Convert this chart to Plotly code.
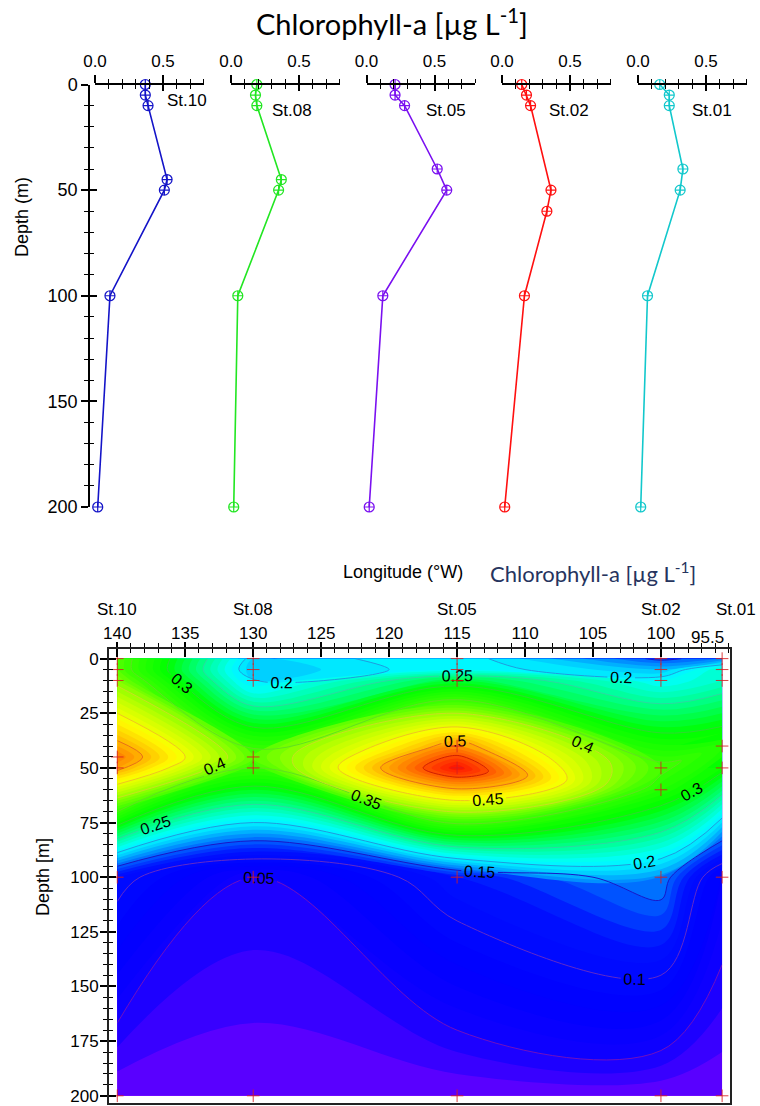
import plotly.graph_objects as go

# ---------------------------------------------------------------- data
stations = ["St.10", "St.08", "St.05", "St.02", "St.01"]
longitude_w = [140, 130, 115, 100, 95.5]

depth_st10 = [0, 5, 10, 45, 50, 100, 200]
chl_st10 = [0.37, 0.37, 0.39, 0.53, 0.51, 0.11, 0.02]

depth_st08 = [0, 5, 10, 45, 50, 100, 200]
chl_st08 = [0.19, 0.18, 0.19, 0.37, 0.35, 0.05, 0.02]

depth_st05 = [0, 5, 10, 40, 50, 100, 200]
chl_st05 = [0.21, 0.21, 0.28, 0.52, 0.59, 0.12, 0.02]

depth_st02 = [0, 5, 10, 50, 60, 100, 200]
chl_st02 = [0.145, 0.18, 0.21, 0.36, 0.33, 0.165, 0.02]

depth_st01 = [0, 5, 10, 40, 50, 100, 200]
chl_st01 = [0.16, 0.23, 0.23, 0.33, 0.31, 0.07, 0.02]

chl_tickvals = [0, 0.5]
chl_ticktext = ["0.0", "0.5"]
depth_ticks_profile = [0, 50, 100, 150, 200]
lon_ticks = [140, 135, 130, 125, 120, 115, 110, 105, 100]
depth_ticks_section = [0, 25, 50, 75, 100, 125, 150, 175, 200]

profile_depths = [depth_st10, depth_st08, depth_st05, depth_st02, depth_st01]
profile_chl = [chl_st10, chl_st08, chl_st05, chl_st02, chl_st01]
profile_colors = ["#1414c8", "#22e622", "#7a10f0", "#ff1010", "#12c8cc"]

# ---------------------------------------------------------------- page geometry (pixels)
W, H = 760, 1106
FONT = "Arial, 'Liberation Sans', sans-serif"
TITLE_FONT = "Lato, 'Open Sans', sans-serif"


def fx(px):
    return px / W


def fy(py):
    return 1 - py / H


prof_top, prof_bottom = 84.5, 507          # depth 0 and 200 m
prof_axis_x = 89
prof_origin_px = [95, 231, 366.5, 502, 638]
prof_unit_px = 136                          # pixels per ug/L

sec_left, sec_right, sec_top, sec_bottom = 109, 730, 649, 1103
sec_xrange = [140.61, 94.92]
sec_yrange = [203.3, -4.4]

# ---------------------------------------------------------------- figure
fig = go.Figure()

for i, (name, d, c, col) in enumerate(zip(stations, profile_depths, profile_chl, profile_colors)):
    fig.add_trace(go.Scatter(
        x=c, y=d, xaxis="x" if i == 0 else f"x{i + 1}", yaxis="y",
        mode="lines+markers", name=name, showlegend=False, cliponaxis=False,
        line=dict(color=col, width=1.6),
        marker=dict(symbol="circle-cross-open", size=10, color=col,
                    line=dict(width=1.2, color=col)),
    ))

# section: the casts form a curvilinear (longitude, depth) grid
grid_a = list(range(len(stations)))
grid_b = list(range(len(depth_st10)))
grid_x = [[longitude_w[i] for i in grid_a] for j in grid_b]
grid_y = [[profile_depths[i][j] for i in grid_a] for j in grid_b]
grid_z = [[profile_chl[i][j] for i in grid_a] for j in grid_b]

hidden_carpet_axis = dict(showgrid=False, showline=False, showticklabels="none",
                          startline=False, endline=False, minorgridcount=0,
                          tickmode="array", tickvals=[], smoothing=0)
fig.add_trace(go.Carpet(
    carpet="section", a=grid_a, b=grid_b, x=grid_x, y=grid_y,
    xaxis="x6", yaxis="y2", color="rgba(0,0,0,0)",
    aaxis=hidden_carpet_axis, baxis=hidden_carpet_axis,
))

# colour stops in ug/L, rescaled to the 0-0.6 colour range below
Z_MAX = 0.6
fill_stops = [
    (0.000, "#8000ff"), (0.020, "#6a00ff"), (0.035, "#3800ff"), (0.050, "#1000ff"),
    (0.080, "#0000ff"), (0.120, "#0010ff"), (0.150, "#0060ff"), (0.190, "#00e0ff"),
    (0.210, "#00ffff"), (0.250, "#00ff90"), (0.300, "#00ff00"), (0.360, "#40ff00"),
    (0.420, "#c0ff00"), (0.460, "#ffff00"), (0.520, "#ff9000"), (0.560, "#ff4000"),
    (0.600, "#ff0000"),
]
line_stops = [
    (0.000, "#7010c0"), (0.050, "#8030c8"), (0.080, "#2020c8"), (0.120, "#1818c8"),
    (0.150, "#1848d8"), (0.190, "#20b8e0"), (0.210, "#20d8d8"), (0.250, "#30d890"),
    (0.300, "#30d830"), (0.360, "#60e020"), (0.420, "#c8e020"), (0.460, "#f0e020"),
    (0.520, "#f09020"), (0.560, "#e05010"), (0.600, "#d02000"),
]
fill_scale = [[v / Z_MAX, c] for v, c in fill_stops]
line_scale = [[v / Z_MAX, c] for v, c in line_stops]

fig.add_trace(go.Contourcarpet(
    carpet="section", z=grid_z, xaxis="x6", yaxis="y2",
    zauto=False, zmin=0, zmax=Z_MAX, colorscale=fill_scale, showscale=False,
    autocontour=False,
    contours=dict(start=0, end=Z_MAX, size=0.01, coloring="fill", showlines=False),
    line=dict(width=0),
))
fig.add_trace(go.Contourcarpet(
    carpet="section", z=grid_z, xaxis="x6", yaxis="y2",
    zauto=False, zmin=0, zmax=Z_MAX, colorscale=line_scale, showscale=False,
    autocontour=False,
    contours=dict(start=0.05, end=0.55, size=0.05, coloring="lines",
                  showlabels=True, labelformat=".2~f",
                  labelfont=dict(family=FONT, size=16, color="black")),
    line=dict(width=1),
))

sec_x, sec_y = [], []
for lon, d in zip(longitude_w, profile_depths):
    sec_x += [lon] * len(d)
    sec_y += d
fig.add_trace(go.Scatter(
    x=sec_x, y=sec_y, xaxis="x6", yaxis="y2", mode="markers",
    showlegend=False, hoverinfo="skip", cliponaxis=False,
    marker=dict(symbol="cross-thin", size=9,
                line=dict(width=1, color="rgba(215,30,30,0.85)")),
))

# empty traces so that the inward tick overlays get their own subplots
overlay_pairs = [(f"x{i + 7}", "y") for i in range(5)] + [("x", "y3"), ("x12", "y2"), ("x6", "y4")]
for xa, ya in overlay_pairs:
    fig.add_trace(go.Scatter(x=[], y=[], xaxis=xa, yaxis=ya, showlegend=False,
                             hoverinfo="skip"))

# ---------------------------------------------------------------- axes
layout = {}
tick_font = dict(family=FONT, size=17, color="black")

for i, p0 in enumerate(prof_origin_px):
    key = "xaxis" if i == 0 else f"xaxis{i + 1}"
    ref = "x" if i == 0 else f"x{i + 1}"
    base = dict(range=[0, 0.8], domain=[fx(p0), fx(p0 + 0.8 * prof_unit_px)],
                anchor="y", side="top", showgrid=False, zeroline=False,
                tickvals=chl_tickvals, tickwidth=1.5, tickcolor="black")
    layout[key] = dict(
        base, ticktext=chl_ticktext, ticks="outside", ticklen=8,
        showline=True, linewidth=1.5, linecolor="black",
        tickfont=tick_font, ticklabelstandoff=1,
        minor=dict(dtick=0.1, tick0=0, ticks="outside", ticklen=4,
                   tickwidth=1.3, tickcolor="black"),
    )
    layout[f"xaxis{i + 7}"] = dict(
        base, overlaying=ref, ticks="inside", ticklen=6, showticklabels=False,
        showline=False,
        minor=dict(dtick=0.1, tick0=0, ticks="inside", ticklen=4,
                   tickwidth=1.3, tickcolor="black"),
    )

prof_y_base = dict(range=[200, 0], anchor="free", position=fx(prof_axis_x),
                   side="left", showgrid=False, zeroline=False,
                   tickvals=depth_ticks_profile, tickwidth=1.5, tickcolor="black")
layout["yaxis"] = dict(
    prof_y_base, domain=[fy(prof_bottom), fy(prof_top)],
    ticks="outside", ticklen=7, showline=True, linewidth=1.5, linecolor="black",
    tickfont=dict(family=FONT, size=18, color="black"),
    minor=dict(dtick=10, tick0=0, ticks="outside", ticklen=4, tickwidth=1.3,
               tickcolor="black"),
)
layout["yaxis3"] = dict(
    prof_y_base, overlaying="y", ticks="inside", ticklen=7, showticklabels=False,
    showline=False,
    minor=dict(dtick=10, tick0=0, ticks="inside", ticklen=4, tickwidth=1.3,
               tickcolor="black"),
)

sec_x_base = dict(range=sec_xrange, anchor="y2", side="top", showgrid=False,
                  zeroline=False, tickvals=lon_ticks, tickwidth=1.5, tickcolor="black")
layout["xaxis6"] = dict(
    sec_x_base, domain=[fx(sec_left), fx(sec_right)],
    ticks="outside", ticklen=5, showline=True, mirror=True, linewidth=2,
    linecolor="#222222", tickfont=tick_font, ticklabelstandoff=-4,
    minor=dict(dtick=1, tick0=140, ticks="outside", ticklen=4, tickwidth=1.3,
               tickcolor="black"),
)
layout["xaxis12"] = dict(
    sec_x_base, overlaying="x6", ticks="inside", ticklen=8, showticklabels=False,
    showline=False,
    minor=dict(dtick=1, tick0=140, ticks="inside", ticklen=4, tickwidth=1.3,
               tickcolor="black"),
)

sec_y_base = dict(range=sec_yrange, anchor="x6", side="left", showgrid=False,
                  zeroline=False, tickvals=depth_ticks_section, tickwidth=1.5,
                  tickcolor="black")
layout["yaxis2"] = dict(
    sec_y_base, domain=[fy(sec_bottom), fy(sec_top)],
    ticks="outside", ticklen=7, showline=True, mirror=True, linewidth=2,
    linecolor="#222222", tickfont=tick_font, ticklabelstandoff=-2,
    minor=dict(dtick=5, tick0=0, ticks="outside", ticklen=4, tickwidth=1.3,
               tickcolor="black"),
)
layout["yaxis4"] = dict(
    sec_y_base, overlaying="y2", ticks="inside", ticklen=7, showticklabels=False,
    showline=False,
    minor=dict(dtick=5, tick0=0, ticks="inside", ticklen=4, tickwidth=1.3,
               tickcolor="black"),
)

# ---------------------------------------------------------------- text
label_font = dict(family=FONT, size=18, color="black")
centered = dict(showarrow=False, xanchor="center", yanchor="middle")
annotations = [
    dict(centered, text="Chlorophyll-a [µg L<sup>-1</sup>]", x=fx(392), y=fy(22),
         xref="paper", yref="paper",
         font=dict(family=TITLE_FONT, size=29, color="black")),
    dict(centered, text="Depth (m)", x=fx(22), y=fy(217), xref="paper", yref="paper",
         textangle=-90, font=label_font),
    dict(centered, text="Depth [m]", x=fx(43), y=fy(877), xref="paper", yref="paper",
         textangle=-90, font=label_font),
    dict(centered, text="Longitude (°W)", x=fx(403), y=fy(572), xref="paper",
         yref="paper", font=label_font),
    dict(centered, text="Chlorophyll-a [µg L<sup>-1</sup>]", x=fx(593), y=fy(572),
         xref="paper", yref="paper",
         font=dict(family=TITLE_FONT, size=22, color="#26345e")),
    dict(centered, text="95.5", x=95.5, xref="x6", y=fy(637), yref="paper",
         xshift=-15, font=tick_font),
]

# station names inside the profile panels
profile_label_pos = [(0.676, 7.5), (0.445, 12.3), (0.585, 12.2), (0.496, 12.2), (0.542, 12.2)]
for i, (name, (lx, ly)) in enumerate(zip(stations, profile_label_pos)):
    annotations.append(dict(centered, text=name, x=lx, y=ly,
                            xref="x" if i == 0 else f"x{i + 1}", yref="y",
                            font=tick_font))

# station names above the section
section_label_shift = [0, 0, 0, 0, 14]
for name, lon, sh in zip(stations, longitude_w, section_label_shift):
    annotations.append(dict(centered, text=name, x=lon, xref="x6", y=fy(609),
                            yref="paper", xshift=sh, font=tick_font))

fig.update_layout(
    template="none",
    width=W, height=H,
    margin=dict(l=0, r=0, t=0, b=0),
    paper_bgcolor="white", plot_bgcolor="white",
    showlegend=False,
    annotations=annotations,
    **layout,
)

fig.write_html("out.html")
